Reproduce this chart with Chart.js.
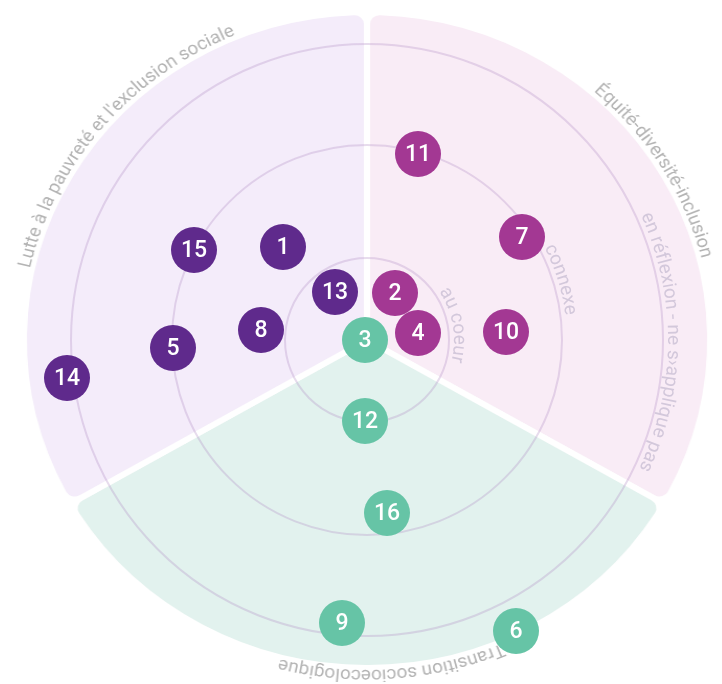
<!DOCTYPE html>
<html>
<head>
<meta charset="utf-8">
<script src="https://cdn.jsdelivr.net/npm/chart.js@4"></script>
<style>
    html, body { margin: 0; padding: 0; background: #fff; }
    #wrap { position: relative; width: 722px; height: 684px; overflow: hidden; }
</style>
</head>
<body>
<div id="wrap">
    <!-- the sector canvas is stretched a bit wider than tall, like the original -->
    <canvas id="sectorChart" width="690" height="684" style="position:absolute;left:6px;top:-2px;width:722px;height:684px;"></canvas>
    <canvas id="dotChart" width="722" height="684" style="position:absolute;left:0;top:0;width:722px;height:684px;"></canvas>
</div>
<script>
// Sectors, in pie order (clockwise from the top)
const sectorNames = ['Équité-diversité-inclusion', 'Transition socioecologique', "Lutte à la pauvreté et l'exclusion sociale"];
const sectorShares = [1, 1, 1];

// Rings (distance from the centre, in chart units)
const ringNames = ['au coeur', 'connexe', 'en réflexion - ne s›applique pas'];
const ringValues = [82, 195, 296];

// Projects per sector: number, x, y
const lutteIds = [1, 15, 13, 8, 5, 14];
const lutteX = [-84, -173, -32, -106, -194, -300];
const lutteY = [93, 90, 48, 10, -8, -38];

const equiteIds = [11, 7, 2, 4, 10];
const equiteX = [51, 155, 28, 51, 139];
const equiteY = [186, 103, 47, 7, 8];

const transitionIds = [3, 12, 16, 9, 6];
const transitionX = [-2, -2, 20, -25, 149];
const transitionY = [0, -81, -173, -283, -291];

const sectorFills = ['#f9ecf6', '#e2f2ee', '#f4ecfa'];
const dotColors = { lutte: '#5f2a8c', equite: '#a33893', transition: '#66c4a6' };

function toPoints(ids, xs, ys) {
    return ids.map((id, i) => ({ x: xs[i], y: ys[i], id: id }));
}

// draws text along a circle, running clockwise from startDeg (maths angle)
function curvedText(ctx, text, cx, cy, r, startDeg) {
    let a = startDeg * Math.PI / 180;
    ctx.textAlign = 'center';
    ctx.textBaseline = 'alphabetic';
    for (const ch of text) {
        const w = ctx.measureText(ch).width;
        const mid = a - w / 2 / r;
        ctx.save();
        ctx.translate(cx + r * Math.cos(mid), cy - r * Math.sin(mid));
        ctx.rotate(Math.PI / 2 - mid);
        ctx.fillText(ch, 0, 0);
        ctx.restore();
        a -= w / r;
    }
}

const sectorLabelStart = [49, -67, 167.5];

const sectorLabels = {
    id: 'sectorLabels',
    afterDatasetsDraw(chart) {
        const arc = chart.getDatasetMeta(0).data[0];
        const ctx = chart.ctx;
        ctx.save();
        ctx.font = '18px Roboto';
        ctx.fillStyle = '#b4b4b4';
        sectorNames.forEach((name, i) => {
            curvedText(ctx, name, arc.x, arc.y, arc.outerRadius + 2, sectorLabelStart[i]);
        });
        ctx.restore();
    }
};

new Chart(document.getElementById('sectorChart'), {
    type: 'pie',
    data: {
        labels: sectorNames,
        datasets: [{
            data: sectorShares,
            backgroundColor: sectorFills,
            borderColor: '#ffffff',
            borderWidth: 6,
            borderRadius: 12,
            radius: 328
        }]
    },
    options: {
        responsive: false,
        animation: false,
        events: [],
        layout: { padding: 0, autoPadding: false },
        plugins: { legend: { display: false }, tooltip: { enabled: false } }
    },
    plugins: [sectorLabels]
});

const ringLabelStart = [34, 27.5, 24.5];

const rings = {
    id: 'rings',
    beforeDatasetsDraw(chart) {
        const { ctx, scales } = chart;
        const cx = scales.x.getPixelForValue(0);
        const cy = scales.y.getPixelForValue(0);
        ctx.save();
        ctx.strokeStyle = 'rgba(175, 140, 195, 0.3)';
        ctx.lineWidth = 2;
        ringValues.forEach(v => {
            const r = scales.x.getPixelForValue(v) - cx;
            ctx.beginPath();
            ctx.arc(cx, cy, r, 0, Math.PI * 2);
            ctx.stroke();
        });
        ctx.font = '19px Roboto';
        ctx.fillStyle = '#d3c8db';
        ringNames.forEach((name, i) => {
            const r = scales.x.getPixelForValue(ringValues[i]) - cx;
            curvedText(ctx, name, cx, cy, r + 5, ringLabelStart[i]);
        });
        ctx.restore();
    }
};

const dotNumbers = {
    id: 'dotNumbers',
    afterDatasetsDraw(chart) {
        const ctx = chart.ctx;
        ctx.save();
        ctx.font = '500 23px Roboto';
        ctx.fillStyle = '#ffffff';
        ctx.textAlign = 'center';
        ctx.textBaseline = 'middle';
        chart.data.datasets.forEach((ds, di) => {
            chart.getDatasetMeta(di).data.forEach((pt, i) => {
                ctx.fillText(String(ds.data[i].id), pt.x, pt.y + 1);
            });
        });
        ctx.restore();
    }
};

new Chart(document.getElementById('dotChart'), {
    type: 'scatter',
    data: {
        datasets: [
            { label: sectorNames[2], data: toPoints(lutteIds, lutteX, lutteY), backgroundColor: dotColors.lutte },
            { label: sectorNames[0], data: toPoints(equiteIds, equiteX, equiteY), backgroundColor: dotColors.equite },
            { label: sectorNames[1], data: toPoints(transitionIds, transitionX, transitionY), backgroundColor: dotColors.transition }
        ]
    },
    options: {
        responsive: false,
        animation: false,
        events: [],
        layout: { padding: 0, autoPadding: false },
        elements: { point: { radius: 23, borderWidth: 0, hoverRadius: 23 } },
        scales: {
            x: { type: 'linear', display: false, min: -367, max: 355 },
            y: { type: 'linear', display: false, min: -344, max: 340 }
        },
        plugins: { legend: { display: false }, tooltip: { enabled: false } }
    },
    plugins: [rings, dotNumbers]
});
</script>
</body>
</html>
